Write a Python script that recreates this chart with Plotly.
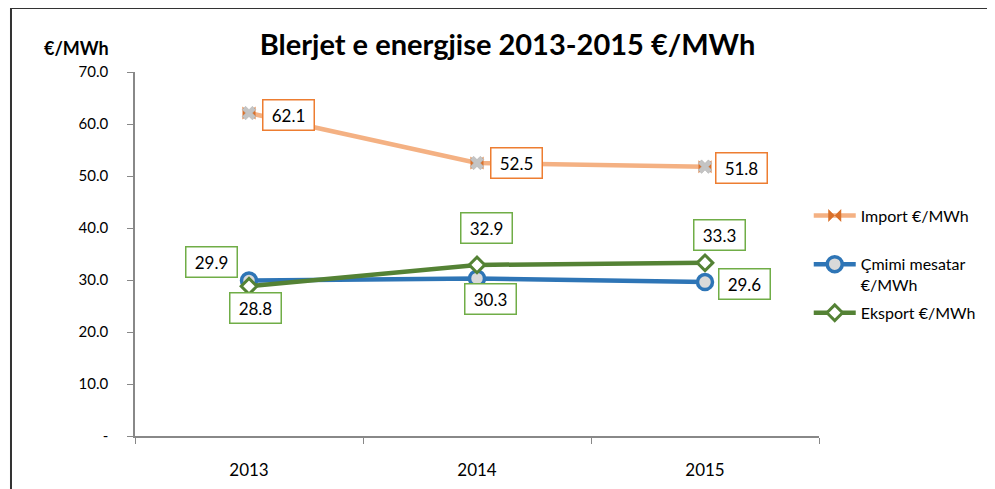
import plotly.graph_objects as go

years = ["2013", "2014", "2015"]
import_vals = [62.1, 52.5, 51.8]
cmimi_vals = [29.9, 30.3, 29.6]
eksport_vals = [28.8, 32.9, 33.3]
names = ["Import €/MWh", "Çmimi mesatar<br>€/MWh", "Eksport €/MWh"]
y_tickvals = [0, 10, 20, 30, 40, 50, 60, 70]
y_ticktext = ["-", "10.0", "20.0", "30.0", "40.0", "50.0", "60.0", "70.0"]

FONT = "Lato"
fig = go.Figure()

fig.add_trace(go.Scatter(
    x=years, y=import_vals, name=names[0] + "<br> ", mode="lines+markers",
    line=dict(color="#F4B183", width=4.5),
    marker=dict(symbol="bowtie", size=13, color="#D9702A", line=dict(color="#D9702A", width=0)),
    legendgroup="a"))
fig.add_trace(go.Scatter(
    x=years, y=import_vals, mode="markers", showlegend=False, hoverinfo="skip",
    marker=dict(symbol="x", size=12, color="#C4C4C4", line=dict(color="#B0B0B0", width=0.5)),
    legendgroup="a"))
fig.add_trace(go.Scatter(
    x=years, y=cmimi_vals, name=names[1], mode="lines+markers",
    line=dict(color="#2E75B6", width=4.5),
    marker=dict(symbol="circle", size=15, color="#D9D9D9", line=dict(color="#2E75B6", width=3.5)),
    legendgroup="b"))
fig.add_trace(go.Scatter(
    x=years, y=eksport_vals, name=names[2], mode="lines+markers",
    line=dict(color="#548235", width=4.5),
    marker=dict(symbol="diamond", size=12, color="white", line=dict(color="#548235", width=3)),
    legendgroup="c"))

ann = []
def label(xi, yv, dx, dy, color):
    ann.append(dict(x=xi, y=yv, xref="x", yref="y", text=f"{yv:.1f}", showarrow=False,
                    xshift=dx, yshift=dy, width=42, height=21, align="center", valign="middle",
                    bordercolor=color, borderwidth=1.5, borderpad=4,
                    bgcolor="white", font=dict(family=FONT, size=17, color="black")))

imp_off = [(39, -2), (39, 0), (36, -1)]
cm_off = [(-38, 19), (13, -21), (39, -2)]
ek_off = [(6, -22), (9, 37), (14, 28)]
for i in range(len(years)):
    label(i, import_vals[i], *imp_off[i], "#ED7D31")
    label(i, cmimi_vals[i], *cm_off[i], "#70AD47")
    label(i, eksport_vals[i], *ek_off[i], "#70AD47")

ann.append(dict(x=-0.0848, y=1.031, xref="paper", yref="paper", text="<b>€/MWh</b>",
                showarrow=False, xanchor="center", yanchor="bottom",
                font=dict(family=FONT, size=18, color="black")))

fig.update_layout(
    width=995, height=489,
    margin=dict(l=127, r=184, t=64, b=61, autoexpand=False),
    paper_bgcolor="white", plot_bgcolor="white",
    title=dict(text="<b>Blerjet e energjise 2013-2015 €/MWh</b>", x=0.502, xanchor="center",
               y=0.924, yanchor="middle", font=dict(family=FONT, size=29, color="black")),
    font=dict(family=FONT, size=15, color="black"),
    showlegend=True,
    legend=dict(x=0.985, y=0.652, xanchor="left", yanchor="top", valign="top",
                itemwidth=42, font=dict(family=FONT, size=16, color="black"),
                tracegroupgap=4, bgcolor="rgba(0,0,0,0)"),
    annotations=ann,
    shapes=[dict(type="path", xref="paper", yref="paper",
                 path="M -0.1813,-0.3 L -0.1813,1.1758 L 1.4,1.1758",
                 line=dict(color="#333333", width=2))],
)
fig.update_xaxes(type="category", range=[-0.5, len(years) - 0.5], showline=True,
                 linecolor="#888888", linewidth=1.5,
                 ticks="outside", tickson="boundaries", ticklen=6, tickcolor="#888888",
                 showgrid=False, ticklabelstandoff=18, tickangle=0, automargin=False,
                 tickfont=dict(family=FONT, size=17))
fig.update_yaxes(range=[0, 70], tickvals=y_tickvals, ticktext=y_ticktext, showline=True,
                 linecolor="#888888", linewidth=1.5, ticks="outside", ticklen=6,
                 tickcolor="#888888", showgrid=False, zeroline=False, ticklabelstandoff=16,
                 automargin=False, tickfont=dict(family=FONT, size=15))

fig.write_html("out.html")
